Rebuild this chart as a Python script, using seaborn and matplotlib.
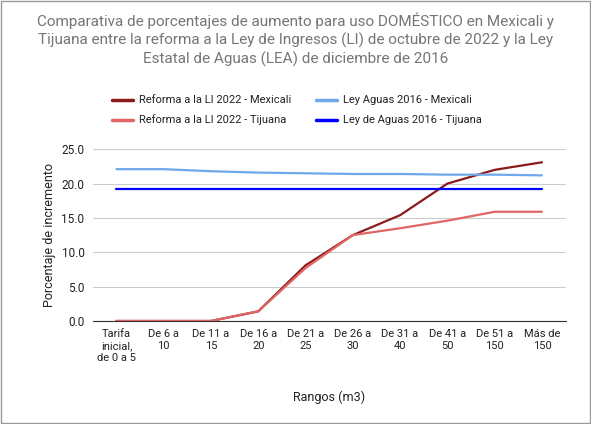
import matplotlib
matplotlib.use("Agg")
import matplotlib.pyplot as plt
import seaborn as sns
import pandas as pd

categories = ["Tarifa\ninicial,\nde 0 a 5", "De 6 a\n10", "De 11 a\n15", "De 16 a\n20", "De 21 a\n25",
              "De 26 a\n30", "De 31 a\n40", "De 41 a\n50", "De 51 a\n150", "Más de\n150"]
mxl_2022 = [0, 0, 0, 1.4, 8.1, 12.5, 15.4, 20.0, 22.0, 23.1]
mxl_2016 = [22.1, 22.1, 21.8, 21.6, 21.5, 21.4, 21.4, 21.3, 21.3, 21.2]
tij_2022 = [0, 0, 0, 1.4, 7.7, 12.5, 13.5, 14.6, 15.9, 15.9]
tij_2016 = [19.2] * 10

names = ["Reforma a la LI 2022 - Mexicali", "Ley Aguas 2016 - Mexicali",
         "Reforma a la LI 2022 - Tijuana", "Ley de Aguas 2016 - Tijuana"]
colors = ["#8b1a1a", "#6fa8eb", "#e06666", "#0000ff"]
series = [mxl_2022, mxl_2016, tij_2022, tij_2016]

rows = []
for n, s in zip(names, series):
    for i, v in enumerate(s):
        rows.append({"x": i, "y": v, "serie": n})
df = pd.DataFrame(rows)

sns.set_style("white")
plt.rcParams["font.family"] = ["Roboto", "DejaVu Sans"]

fig = plt.figure(figsize=(5.91, 4.24), dpi=100)
ax = fig.add_axes([0.157, 0.243, 0.80, 0.405])
sns.lineplot(data=df, x="x", y="y", hue="serie", palette=dict(zip(names, colors)),
             hue_order=names, ax=ax, linewidth=1.6, legend=False)
ax.set_ylim(0, 25)
ax.set_xlim(-0.5, 9.5)
ax.set_yticks([0, 5, 10, 15, 20, 25])
ax.set_yticklabels(["0.0", "5.0", "10.0", "15.0", "20.0", "25.0"], fontsize=8.5, color="#222222")
ax.set_xticks(range(10))
ax.set_xticklabels(categories, fontsize=8, color="#222222", va="top")
ax.tick_params(length=0, pad=6)
ax.grid(axis="y", color="#cccccc", linewidth=0.8)
for sp in ["top", "right", "left"]:
    ax.spines[sp].set_visible(False)
ax.spines["bottom"].set_color("#333333")
ax.set_xlabel("Rangos (m3)", fontsize=9, color="#222222", labelpad=20)
ax.set_ylabel("Porcentaje de incremento", fontsize=9, color="#222222")

fig.text(0.5, 0.97, "Comparativa de porcentajes de aumento para uso DOMÉSTICO en Mexicali y\n"
         "Tijuana entre la reforma a la Ley de Ingresos (LI) de octubre de 2022 y la Ley\n"
         "Estatal de Aguas (LEA) de diciembre de 2016",
         ha="center", va="top", fontsize=11, color="#757575", linespacing=1.3)

from matplotlib.lines import Line2D
pos = [(0.19, 0.765), (0.535, 0.765), (0.19, 0.718), (0.535, 0.718)]
for (x, y), n, c in zip(pos, names, colors):
    fig.add_artist(Line2D([x, x + 0.035], [y, y], color=c, linewidth=2.5, transform=fig.transFigure))
    fig.text(x + 0.045, y, n, fontsize=8, va="center", color="#222222")

fig.add_artist(plt.Rectangle((0.002, 0.002), 0.996, 0.996, fill=False, edgecolor="#999999",
                             linewidth=1, transform=fig.transFigure))
fig.savefig("out.png", dpi=100)
